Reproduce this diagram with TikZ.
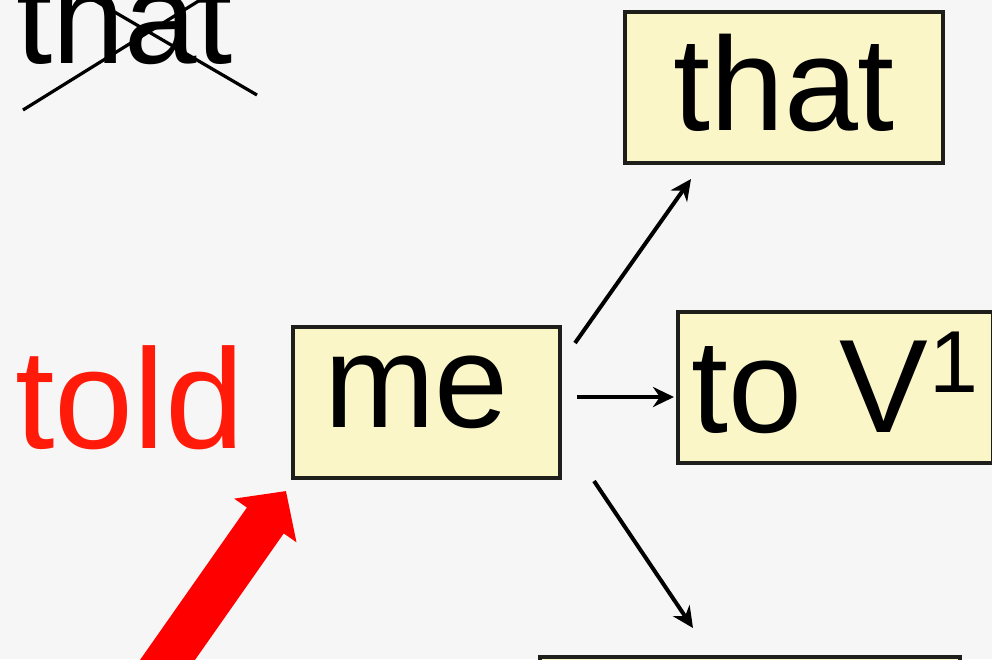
\documentclass[tikz,border=0pt]{standalone}
\usepackage{fontspec}
\setmainfont{Liberation Sans}
\usetikzlibrary{arrows.meta}
\definecolor{bg}{HTML}{F6F6F6}
\definecolor{boxfill}{HTML}{FAF6C8}
\definecolor{boxline}{HTML}{1E1E1A}
\definecolor{redtxt}{HTML}{FF1A0A}
\tikzset{
  wordbox/.style={draw=boxline, fill=boxfill, line width=4pt, inner sep=0pt,
    font=\fontsize{133}{133}\selectfont, text depth=10pt},
  conn/.style={line width=4pt, -{Stealth[length=21pt,width=20pt]}},
  bigred/.style={draw=red, line width=45pt, -{Triangle[length=36pt,width=74pt]}, red},
}
\begin{document}
\begin{tikzpicture}[x=1pt,y=-1pt]
\useasboundingbox (0,0) rectangle (992,659);
\clip (0,0) rectangle (992,659);
\fill[bg] (0,0) rectangle (992,659);

% crossed-out word
\node[anchor=base west, inner sep=0pt, font=\fontsize{130}{130}\selectfont] (oldthat) at (16,63) {that};
\draw[line width=3.2pt] (23,110) -- (205,-3);
\draw[line width=3.2pt] (94,0) -- (257,95);

% red verb
\node[anchor=base west, inner sep=0pt, text=redtxt, font=\fontsize{142}{142}\selectfont] (told) at (15,448) {told};

% boxes
\node[wordbox, minimum width=267pt, minimum height=151pt, text height=60pt] (me) at (426.5,402.5) {me\kern20pt\null};
\node[wordbox, minimum width=318pt, minimum height=151pt, text height=95pt] (that) at (784,87.5) {that};
\node[wordbox, minimum width=315pt, minimum height=151pt, text height=99pt] (tov) at (835,387.5) {to V\kern2pt\raisebox{40pt}{\fontsize{88}{88}\selectfont 1}};
\node[wordbox, minimum width=420pt, minimum height=151pt] (bottom) at (750,732.5) {};

% connectors
\coordinate (s1) at (575,343);
\coordinate (e1) at (691,179);
\coordinate (s2) at (577,397);
\coordinate (e2) at (674,397);
\coordinate (s3) at (594,481);
\coordinate (e3) at (693,628);
\draw[conn] (s1) -- (e1);
\draw[conn] (s2) -- (e2);
\draw[conn] (s3) -- (e3);

% big red arrow
\coordinate (rs) at (138,702);
\coordinate (re) at (286,491);
\draw[bigred] (rs) -- (re);
\end{tikzpicture}
\end{document}
